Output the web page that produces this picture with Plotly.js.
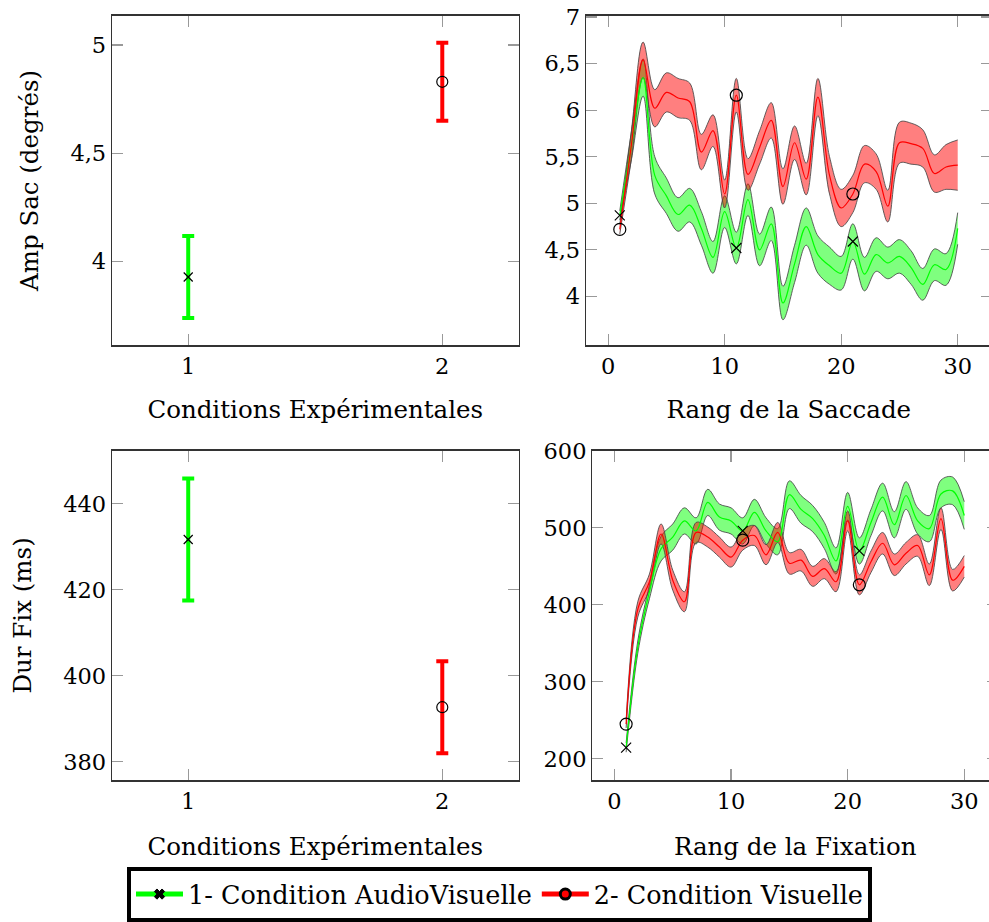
<!DOCTYPE html>
<html><head><meta charset="utf-8">
<script src="https://cdn.plot.ly/plotly-3.0.1.min.js"></script>
<style>html,body{margin:0;padding:0;overflow:hidden;background:#fff}#chart{width:1000px;height:922px}</style>
</head><body><div id="chart"></div>
<script>
// ---- data ----
const conditions = [1, 2];
const condTicks = ['1', '2'];
const ampSacMean = [3.928, 4.830];
const ampSacErr = [0.189, 0.180];
const durFixMean = [431.7, 392.7];
const durFixErr = [14.2, 10.7];

const rang = [1,2,3,4,5,6,7,8,9,10,11,12,13,14,15,16,17,18,19,20,21,22,23,24,25,26,27,28,29,30];

const sacAV    = [4.87,5.62,6.35,5.30,5.08,4.88,4.98,4.73,4.42,4.91,4.52,5.04,4.50,4.78,3.93,4.35,4.75,4.45,4.33,4.25,4.59,4.24,4.45,4.36,4.43,4.31,4.13,4.34,4.29,4.73];
const sacAVErr = [0.05,0.15,0.20,0.20,0.19,0.18,0.18,0.18,0.17,0.17,0.17,0.17,0.17,0.18,0.18,0.20,0.20,0.20,0.20,0.18,0.19,0.18,0.18,0.17,0.18,0.18,0.17,0.17,0.17,0.17];
const sacV     = [4.72,5.63,6.54,6.02,6.19,6.13,6.09,5.55,5.78,5.10,6.16,5.31,5.60,5.89,5.18,5.65,5.26,6.14,5.30,4.95,5.10,5.42,5.34,4.97,5.65,5.64,5.59,5.32,5.39,5.41];
const sacVErr  = [0.05,0.15,0.19,0.20,0.21,0.21,0.20,0.19,0.17,0.15,0.18,0.17,0.18,0.19,0.19,0.18,0.17,0.20,0.20,0.20,0.20,0.20,0.19,0.17,0.22,0.22,0.20,0.20,0.24,0.27];

const fixAV    = [214.5,345,417,473,488,509,496,533,514,509,496,520,496,482,543,524,512,490,457,528,470,507,540,504,542,509,499,544,548,516];
const fixAVErr = [6,8,9,16,17,17,17,17,17,17,17,17,17,17,18,18,17,17,17,18,17,17,18,17,18,17,17,18,18,18];
const fixV     = [245,394,430,492,432,404,494,488,475,462,484,490,465,494,454,458,437,447,430,509,426,456,480,452,467,477,439,512,432,450];
const fixVErr  = [5,10,10,13,13,13,13,13,13,13,13,13,13,13,14,14,13,13,13,13,13,14,14,14,14,14,14,14,14,14];

const markIdx = [0, 10, 20];
const nameAV = '1- Condition AudioVisuelle';
const nameV = '2- Condition Visuelle';

// ---- styles ----
const GREEN = '#00ff00', RED = '#ff0000';
const FONT = 'DejaVu Serif';
const TICK = 22.5, TITLE = 24.5, LEG = 25.5;
const edge = {color: 'rgba(70,70,70,0.85)', width: 1, shape: 'spline', smoothing: 1};

function band(x, m, e, xa, ya, fill) {
  const up = m.map((v, i) => v + e[i]);
  const lo = m.map((v, i) => v - e[i]);
  return [
    {type:'scatter', x:x, y:up, xaxis:xa, yaxis:ya, mode:'lines', line:edge, showlegend:false, hoverinfo:'skip'},
    {type:'scatter', x:x, y:lo, xaxis:xa, yaxis:ya, mode:'lines', line:edge, fill:'tonexty', fillcolor:fill, showlegend:false, hoverinfo:'skip'}
  ];
}
function meanLine(x, m, xa, ya, col) {
  return {type:'scatter', x:x, y:m, xaxis:xa, yaxis:ya, mode:'lines', line:{color:col, width:1.2, shape:'spline', smoothing:1}, showlegend:false};
}
function marks(x, m, xa, ya, sym, size) {
  return {type:'scatter', x:markIdx.map(i => x[i]), y:markIdx.map(i => m[i]), xaxis:xa, yaxis:ya, mode:'markers',
    marker:{symbol:sym, size:size, color:'black', line:{color:'black', width:1.2}}, showlegend:false};
}
function condPoint(i, m, e, xa, ya, col, sym, size) {
  return {type:'scatter', x:[conditions[i]], y:[m[i]], xaxis:xa, yaxis:ya, mode:'markers',
    marker:{symbol:sym, size:size, color:'black', line:{color:'black', width:1.2}},
    error_y:{type:'data', array:[e[i]], visible:true, color:col, thickness:4, width:6}, showlegend:false};
}

const traces = [].concat(
  [condPoint(0, ampSacMean, ampSacErr, 'x', 'y', GREEN, 'x-thin-open', 9),
   condPoint(1, ampSacMean, ampSacErr, 'x', 'y', RED, 'circle-open', 11)],
  band(rang, sacAV, sacAVErr, 'x2', 'y2', 'rgba(0,255,0,0.5)'),
  band(rang, sacV, sacVErr, 'x2', 'y2', 'rgba(255,0,0,0.5)'),
  [meanLine(rang, sacAV, 'x2', 'y2', GREEN), meanLine(rang, sacV, 'x2', 'y2', RED),
   marks(rang, sacAV, 'x2', 'y2', 'x-thin-open', 10), marks(rang, sacV, 'x2', 'y2', 'circle-open', 12)],
  [condPoint(0, durFixMean, durFixErr, 'x3', 'y3', GREEN, 'x-thin-open', 9),
   condPoint(1, durFixMean, durFixErr, 'x3', 'y3', RED, 'circle-open', 11)],
  band(rang, fixAV, fixAVErr, 'x4', 'y4', 'rgba(0,255,0,0.5)'),
  band(rang, fixV, fixVErr, 'x4', 'y4', 'rgba(255,0,0,0.5)'),
  [meanLine(rang, fixAV, 'x4', 'y4', GREEN), meanLine(rang, fixV, 'x4', 'y4', RED),
   marks(rang, fixAV, 'x4', 'y4', 'x-thin-open', 10), marks(rang, fixV, 'x4', 'y4', 'circle-open', 12)],
  // legend entries
  [{type:'scatter', x:[null], y:[null], name:nameAV, mode:'lines+markers', line:{color:GREEN, width:5},
    marker:{symbol:'x', size:9, color:'black', line:{color:'black', width:1}}},
   {type:'scatter', x:[null], y:[null], name:nameV, mode:'lines+markers', line:{color:RED, width:5},
    marker:{symbol:'circle', size:10, color:RED, line:{color:'black', width:3}}}]
);

function ax(domain, range, tickvals, ticktext, title, standoff) {
  return {domain:domain, range:range, tickvals:tickvals, ticktext:ticktext,
    showline:true, linecolor:'#333', linewidth:1.3, mirror:'allticks',
    ticks:'inside', ticklen:11, tickcolor:'#999', tickwidth:1.2,
    showgrid:false, zeroline:false, automargin:false,
    tickfont:{family:FONT, size:TICK, color:'#000'},
    title:{text:title, font:{family:FONT, size:TITLE, color:'#000'}, standoff:standoff}};
}
const yTop = [1 - 348.8/922, 1 - 15.7/922];
const yBot = [1 - 788/922, 1 - 455/922];

const layout = {
  width:1000, height:922, margin:{l:0, r:0, t:0, b:0},
  paper_bgcolor:'#fff', plot_bgcolor:'#fff',
  font:{family:FONT, size:TICK, color:'#000'},
  xaxis: ax([112/1000, 518.5/1000], [0.7, 2.3], conditions, condTicks, 'Conditions Expérimentales', 23),
  yaxis: ax(yTop, [3.612, 5.136], [4, 4.5, 5], ['4', '4,5', '5'], 'Amp Sac (degrés)', 24),
  xaxis2: ax([586/1000, 991.5/1000], [-1.9, 32.9], [0, 10, 20, 30], ['0', '10', '20', '30'], 'Rang de la Saccade', 23),
  yaxis2: ax(yTop, [3.475, 7.015], [4, 4.5, 5, 5.5, 6, 6.5, 7], ['4', '4,5', '5', '5,5', '6', '6,5', '7'], '', 10),
  xaxis3: ax([112/1000, 518.5/1000], [0.7, 2.3], conditions, condTicks, 'Conditions Expérimentales', 25),
  yaxis3: ax(yBot, [375.7, 452.4], [380, 400, 420, 440], ['380', '400', '420', '440'], 'Dur Fix (ms)', 24),
  xaxis4: ax([592.3/1000, 998.1/1000], [-1.9, 32.9], [0, 10, 20, 30], ['0', '10', '20', '30'], 'Rang de la Fixation', 25),
  yaxis4: ax(yBot, [172, 600.4], [200, 300, 400, 500, 600], ['200', '300', '400', '500', '600'], '', 10),
  showlegend:true,
  legend:{orientation:'h', traceorder:'normal', x:0.4995, xanchor:'center', y:1 - 876/922, yanchor:'top',
    bordercolor:'#000', borderwidth:4, bgcolor:'#fff',
    font:{family:FONT, size:LEG, color:'#000'}, itemwidth:47, tracegroupgap:0}
};
layout.yaxis.anchor = 'x'; layout.xaxis.anchor = 'y';
layout.yaxis2.anchor = 'x2'; layout.xaxis2.anchor = 'y2';
layout.yaxis3.anchor = 'x3'; layout.xaxis3.anchor = 'y3';
layout.yaxis4.anchor = 'x4'; layout.xaxis4.anchor = 'y4';

Plotly.newPlot('chart', traces, layout, {displayModeBar:false, staticPlot:true});
</script>
</body></html>
